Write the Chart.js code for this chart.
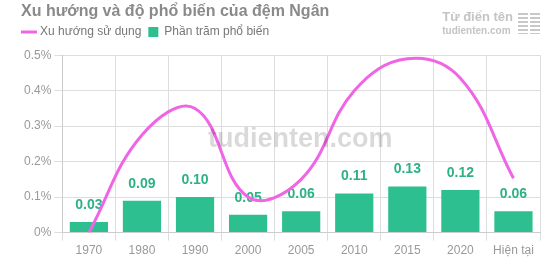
<!DOCTYPE html>
<html lang="vi">
<head>
<meta charset="utf-8">
<script src="https://cdn.jsdelivr.net/npm/chart.js@4/dist/chart.umd.min.js"></script>
<style>
  html, body { margin: 0; padding: 0; background: #fff; }
  #wrap { position: relative; width: 550px; height: 275px; }
  #watermark {
    position: absolute; left: 208px; top: 123px; line-height: 32px;
    font: bold 27px Arial, "Liberation Sans", sans-serif;
    color: rgba(0, 0, 0, 0.15); pointer-events: none;
  }
  #logo {
    position: absolute; right: 10px; top: 10px; display: flex; align-items: center;
    color: #c4c4c4; font-family: Arial, "Liberation Sans", sans-serif; pointer-events: none;
  }
  #logo .t1 { font-size: 13px; font-weight: bold; line-height: 14px; }
  #logo .t2 { font-size: 10px; font-weight: bold; line-height: 12px; margin-top: 1px; }
  #logo .icon { margin-left: 5px; width: 22px; height: 21px;
    background:
      linear-gradient(to right, transparent 0 10px, #fff 10px 12px, transparent 12px),
      repeating-linear-gradient(to bottom, #c8c8c8 0 2px, transparent 2px 4px); }
</style>
</head>
<body>
<div id="wrap">
  <canvas id="trendChart" width="550" height="275"></canvas>
  <div id="watermark">tudienten.com</div>
  <div id="logo"><div><div class="t1">Từ điển tên</div><div class="t2">tudienten.com</div></div><div class="icon"></div></div>
</div>
<script>
// Nhãn trục x
const years = ["1970", "1980", "1990", "2000", "2005", "2010", "2015", "2020", "Hiện tại"];
// Xu hướng sử dụng (%)
const trendValues = [0, 0.275, 0.35, 0.10, 0.15, 0.40, 0.49, 0.435, 0.153];
// Phần trăm phổ biến (%)
const shareValues = [0.03, 0.09, 0.10, 0.05, 0.06, 0.11, 0.13, 0.12, 0.06];

const FONT = "Arial, 'Liberation Sans', sans-serif";

// Vẽ số trên đầu cột
const barLabels = {
  id: "barLabels",
  afterDatasetDraw(chart, args) {
    if (args.index !== 1) return;
    const ctx = chart.ctx;
    ctx.save();
    ctx.font = "bold 14px " + FONT;
    ctx.fillStyle = "#2eb187";
    ctx.textAlign = "center";
    ctx.textBaseline = "bottom";
    args.meta.data.forEach((bar, i) => {
      ctx.fillText(shareValues[i].toFixed(2), bar.x, bar.y - 10);
    });
    ctx.restore();
  },
};

// Chú thích tự vẽ (đường cho xu hướng, ô vuông cho cột)
const customLegend = {
  id: "customLegend",
  afterDraw(chart) {
    const ctx = chart.ctx;
    const y = 32;
    let x = 21;
    ctx.save();
    ctx.font = "12px " + FONT;
    ctx.textBaseline = "middle";
    chart.data.datasets.forEach((ds) => {
      let w;
      if (ds.type === "line") {
        ctx.strokeStyle = ds.borderColor;
        ctx.lineWidth = 3;
        ctx.beginPath();
        ctx.moveTo(x, y);
        ctx.lineTo(x + 16, y);
        ctx.stroke();
        w = 19;
      } else {
        ctx.fillStyle = ds.backgroundColor;
        ctx.fillRect(x, y - 5, 10, 10);
        w = 16;
      }
      ctx.fillStyle = "#777";
      ctx.fillText(ds.label, x + w, y);
      x += w + ctx.measureText(ds.label).width + 7;
    });
    ctx.restore();
  },
};

new Chart(document.getElementById("trendChart").getContext("2d"), {
  type: "bar",
  data: {
    labels: years,
    datasets: [
      {
        type: "line",
        label: "Xu hướng sử dụng",
        data: trendValues,
        borderColor: "#f065e6",
        borderWidth: 3,
        tension: 0.4,
        pointRadius: 0,
        fill: false,
        order: 0,
      },
      {
        label: "Phần trăm phổ biến",
        data: shareValues,
        backgroundColor: "#2ebf91",
        order: 1,
      },
    ],
  },
  options: {
    responsive: false,
    animation: false,
    layout: { padding: { left: 21, right: 10, bottom: 14, top: 0 } },
    plugins: {
      title: {
        display: true,
        text: "Xu hướng và độ phổ biến của đệm Ngân",
        align: "start",
        color: "#8a8a8a",
        font: { size: 16, weight: "bold", family: FONT },
        padding: { top: 2, bottom: 34 },
      },
      legend: { display: false },
      tooltip: { enabled: false },
    },
    scales: {
      y: {
        min: 0,
        max: 0.5,
        ticks: {
          stepSize: 0.1,
          color: "#999",
          font: { size: 12, family: FONT },
          callback: (v) => parseFloat(v.toFixed(1)) + "%",
        },
        grid: { color: "#ddd" },
        border: { color: "#ccc" },
      },
      x: {
        ticks: { color: "#999", font: { size: 12, family: FONT } },
        grid: { color: "#ddd" },
        border: { color: "#ccc" },
      },
    },
  },
  plugins: [barLabels, customLegend],
});
</script>
</body>
</html>
